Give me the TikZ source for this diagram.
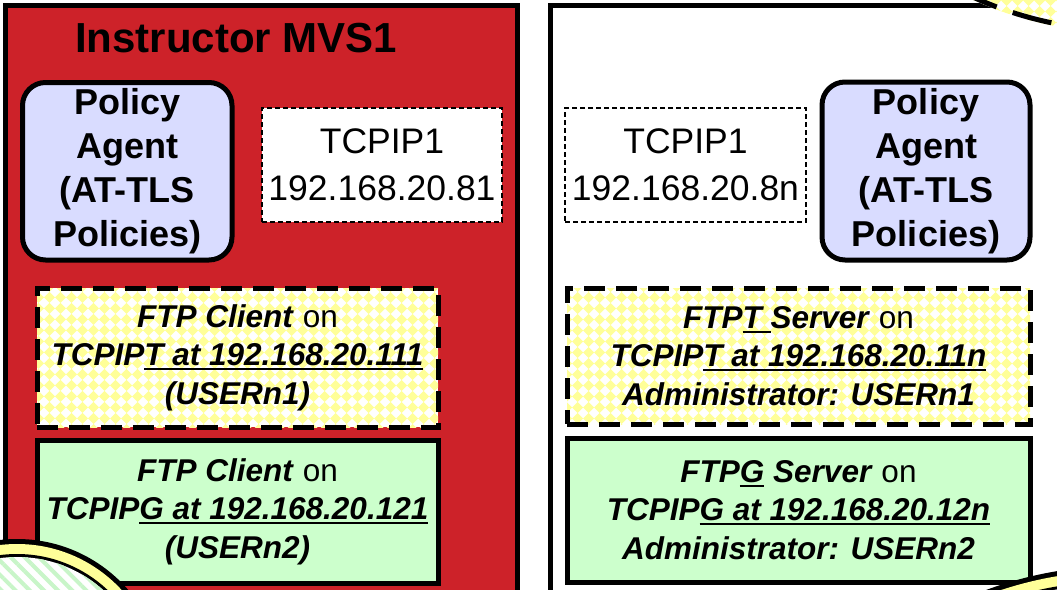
\documentclass[tikz,border=0pt]{standalone}
\usepackage{fontspec}
\setmainfont{Liberation Sans}
\usetikzlibrary{patterns,patterns.meta}
\definecolor{panelred}{HTML}{CD2229}
\definecolor{lav}{HTML}{D9DCFF}
\definecolor{lgreen}{HTML}{CCFFCC}
\definecolor{chkyel}{HTML}{FFFF99}
\definecolor{ringyel}{HTML}{FFFF99}
\definecolor{stripegreen}{HTML}{C8F5C8}
\pgfdeclarepatternformonly{diamcheck}{\pgfpoint{-1pt}{-1pt}}{\pgfpoint{12pt}{12pt}}{\pgfpoint{11pt}{11pt}}{%
  \pgfpathmoveto{\pgfpoint{5.5pt}{0pt}}%
  \pgfpathlineto{\pgfpoint{11pt}{5.5pt}}%
  \pgfpathlineto{\pgfpoint{5.5pt}{11pt}}%
  \pgfpathlineto{\pgfpoint{0pt}{5.5pt}}%
  \pgfpathclose
  \pgfusepath{fill}}
\newcommand\myul[1]{\setbox0=\hbox{#1}\rlap{\rule[-4.5pt]{\wd0}{2pt}}\box0\relax}
\newcommand\bfit[1]{\textbf{\textit{#1}}}
\begin{document}
\begin{tikzpicture}[x=1pt,y=-1pt,
  panelbox/.style={line width=5pt},
  pabox/.style={draw, line width=5pt, fill=lav, rounded corners=23pt, align=center,
    inner sep=0pt, font=\fontsize{36}{44}\selectfont\bfseries},
  ipbox/.style={draw, line width=1.5pt, dash pattern=on 5pt off 3pt, fill=white, align=center,
    inner sep=0pt, font=\fontsize{35.5}{47}\selectfont},
  chkbox/.style={draw, line width=5pt, dash pattern=on 21pt off 11pt, preaction={fill=white},
    pattern=diamcheck, pattern color=chkyel, align=center, inner sep=0pt,
    font=\fontsize{31.5}{38.5}\selectfont},
  grbox/.style={draw, line width=5pt, fill=lgreen, align=center, inner sep=0pt,
    font=\fontsize{31.5}{38.5}\selectfont}]
\useasboundingbox (0,0) rectangle (1057,589);
\clip (0,0) rectangle (1057,589);
% panels
\draw[panelbox, fill=panelred] (5.5,5.5) rectangle (517.5,640);
\draw[panelbox, fill=white] (550.5,5.5) rectangle (1120,640);
% title
\node[anchor=base west, inner sep=0pt, font=\fontsize{42}{50}\selectfont\bfseries] (title) at (75,52) {Instructor MVS1};
% left panel
\node[pabox, minimum width=209.5pt, minimum height=177.5pt] (paL) at (127.25,171.25) {Policy\\Agent\\(AT-TLS\\Policies)};
\node[ipbox, minimum width=240pt, minimum height=114pt] (ipL) at (382,165) {TCPIP1\\192.168.20.81};
\node[chkbox, minimum width=401pt, minimum height=139pt] (ftpTL) at (237.5,357.5)
  {\bfit{FTP Client} on\\\bfit{TCPIP\myul{T at 192.168.20.111}}\\\bfit{(USERn1)}};
\node[grbox, minimum width=401pt, minimum height=143pt] (ftpGL) at (237.5,511.5)
  {\bfit{FTP Client} on\\\bfit{TCPIP\myul{G at 192.168.20.121}}\\\bfit{(USERn2)}};
% right panel
\node[ipbox, minimum width=241pt, minimum height=114pt] (ipR) at (685.5,165) {TCPIP1\\192.168.20.8n};
\node[pabox, minimum width=208pt, minimum height=178pt] (paR) at (926,171) {Policy\\Agent\\(AT-TLS\\Policies)};
\node[chkbox, minimum width=463pt, minimum height=136pt] (ftpTR) at (798.5,356)
  {\bfit{FTP\myul{T }Server} on\\\bfit{TCPIP\myul{T at 192.168.20.11n}}\\\bfit{Administrator: USERn1}};
\node[grbox, minimum width=463pt, minimum height=144pt] (ftpGR) at (798.5,510)
  {\bfit{FTP\myul{G} Server} on\\\bfit{TCPIP\myul{G at 192.168.20.12n}}\\\bfit{Administrator: USERn2}};
% bottom-left ring
\fill[black] (17,686) circle[radius=147pt];
\fill[ringyel] (17,686) circle[radius=142pt];
\fill[black] (17,686) circle[radius=132pt];
\fill[white] (17,686) circle[radius=129pt];
\fill[pattern={Lines[angle=-45,distance=10pt,line width=4pt]}, pattern color=stripegreen] (17,686) circle[radius=129pt];
% bottom-right ring
\fill[black] (1120,950) circle[radius=384pt];
\fill[ringyel] (1120,950) circle[radius=379pt];
\fill[black] (1120,950) circle[radius=369pt];
\fill[white] (1120,950) circle[radius=366pt];
\fill[pattern={Lines[angle=-45,distance=10pt,line width=4pt]}, pattern color=stripegreen] (1120,950) circle[radius=366pt];
% top-right dashed cloud
\path[preaction={fill=white}, pattern=diamcheck, pattern color=chkyel] (1127,-340) circle[radius=373pt];
\draw[line width=5pt, dash pattern=on 40pt off 17pt, dash phase=23pt] (1127,-340) circle[radius=370.5pt];
\end{tikzpicture}
\end{document}
